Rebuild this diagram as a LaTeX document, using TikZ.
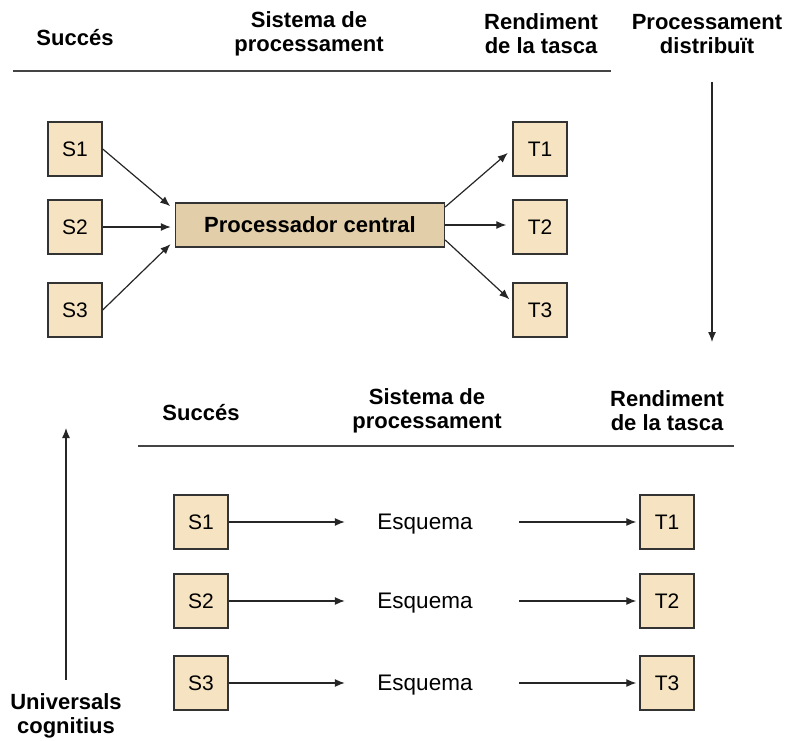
\documentclass[tikz,border=0pt]{standalone}
\usepackage{fontspec}
\setmainfont{Liberation Sans}
\usepackage{tikz}
\usetikzlibrary{positioning,arrows.meta}
\definecolor{sorra}{HTML}{F6E3C2}
\definecolor{sorrafosc}{HTML}{E2CFAA}
\definecolor{vora}{HTML}{333333}
\definecolor{regles}{HTML}{444444}

\begin{document}
\begin{tikzpicture}[>={Latex[length=10pt,width=8pt]}, x=1pt, y=1pt]
    \tikzset{
        caixa/.style={
            draw=vora,
            line width=1.4pt,
            fill=sorra,
            minimum width=54pt,
            minimum height=54pt,
            inner sep=0pt,
            font=\fontsize{21}{24}\selectfont
        },
        central/.style={
            draw=vora,
            line width=1.4pt,
            fill=sorrafosc,
            minimum width=269pt,
            minimum height=44pt,
            font=\fontsize{22}{24}\selectfont\bfseries
        },
        capcal/.style={
            align=center,
            inner sep=0pt,
            font=\fontsize{22}{24}\selectfont\bfseries
        },
        esquema/.style={
            minimum width=96pt,
            inner sep=0pt,
            font=\fontsize{22.5}{24}\selectfont
        },
        fletxa/.style={
            ->,
            draw=black!85,
            line width=1.2pt
        },
        regla/.style={
            draw=regles,
            line width=2pt
        }
    }
    \useasboundingbox (0,0) rectangle (794,740);

    % Processament distribuit (a dalt)
    \node[capcal] (succ)    at (75,702)  {Succés};
    \node[capcal] (sist)    at (309,706) {Sistema de\\processament};
    \node[capcal] (rend)    at (541,706) {Rendiment\\de la tasca};
    \node[capcal] (distrib) at (707,706) {Processament\\distribuït};
    \draw[regla] (13,669) -- (611,669);

    \node[caixa] (s1) at (75,591) {S1};
    \node[caixa] (s2) at (75,513) {S2};
    \node[caixa] (s3) at (75,430) {S3};
    \node[central] (proc) at (310,515) {Processador central};
    \node[caixa] (t1) at (540,591) {T1};
    \node[caixa] (t2) at (540,513) {T2};
    \node[caixa] (t3) at (540,430) {T3};

    \draw[fletxa, shorten >=6pt] (s1.east) -- ([yshift=15pt]proc.west);
    \draw[fletxa, shorten >=4pt] (s2.east) -- (s2.east -| proc.west);
    \draw[fletxa, shorten >=6pt] (s3.east) -- ([yshift=-15pt]proc.west);
    \draw[fletxa, shorten >=6pt] ([yshift=18pt]proc.east) -- (t1.west);
    \draw[fletxa, shorten >=6pt] (proc.east) -- (proc.east -| t2.west);
    \draw[fletxa, shorten >=4pt] ([yshift=-15pt]proc.east) -- ([yshift=8pt]t3.west);

    % Fletxes laterals
    \coordinate (dalt)  at (712,658);
    \coordinate (baix)  at (712,398);
    \draw[fletxa] (dalt) -- (baix);
    \node[capcal] (univ) at (66,24) {Universals\\cognitius};
    \coordinate (peu)   at (66,60);
    \coordinate (amunt) at (66,312);
    \draw[fletxa] (peu) -- (amunt);

    % Universals cognitius (a baix)
    \node[capcal] (bsucc) at (201,327) {Succés};
    \node[capcal] (bsist) at (427,329) {Sistema de\\processament};
    \node[capcal] (brend) at (667,329) {Rendiment\\de la tasca};
    \draw[regla] (138,294) -- (734,294);

    \foreach \i/\y in {1/218, 2/139, 3/57} {
        \node[caixa] (bs\i) at (201,\y) {S\i};
        \node[esquema] (be\i) at (425,\y-2) {Esquema};
        \node[caixa] (bt\i) at (667,\y) {T\i};
        \draw[fletxa, shorten >=32pt] (bs\i.east) -- (bs\i.east -| be\i.west);
        \draw[fletxa, shorten <=46pt, shorten >=3pt] (bt\i.west -| be\i.east) -- (bt\i.west);
    }
\end{tikzpicture}
\end{document}
